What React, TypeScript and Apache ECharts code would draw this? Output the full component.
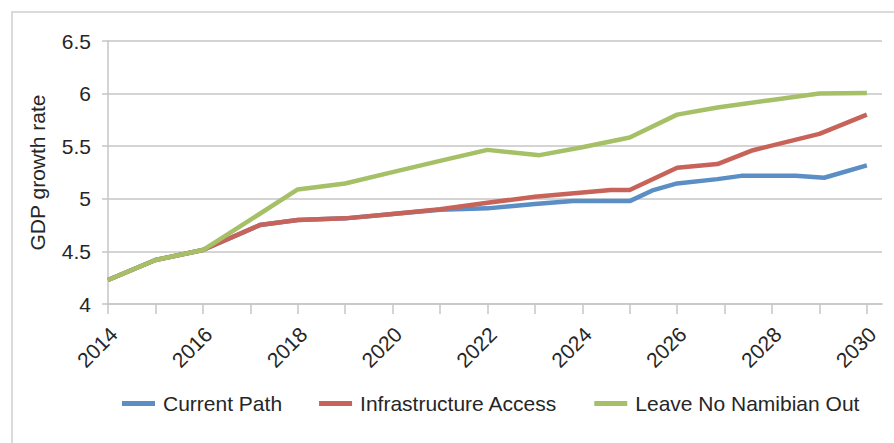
import React, { useEffect, useRef } from "react";
import * as echarts from "echarts";

const seriesNames = ["Current Path", "Infrastructure Access", "Leave No Namibian Out"];

const currentPathYears = [2014, 2015, 2016, 2017.2, 2018, 2019, 2020, 2021, 2022, 2023, 2023.8, 2025, 2025.5, 2026, 2026.85, 2027.35, 2028.5, 2029.1, 2030];
const currentPathValues = [4.228, 4.418, 4.513, 4.75, 4.798, 4.814, 4.855, 4.895, 4.909, 4.95, 4.978, 4.978, 5.083, 5.146, 5.187, 5.218, 5.218, 5.2, 5.317];

const infraYears = [2014, 2015, 2016, 2017.2, 2018, 2019, 2020, 2021, 2022, 2023, 2024.6, 2025, 2026, 2026.85, 2027.6, 2029, 2030];
const infraValues = [4.228, 4.418, 4.513, 4.75, 4.798, 4.814, 4.855, 4.9, 4.962, 5.02, 5.083, 5.083, 5.295, 5.33, 5.462, 5.617, 5.8];

const leaveYears = [2014, 2015, 2016, 2017, 2018, 2019, 2020, 2021, 2022, 2023.1, 2024, 2025, 2026, 2026.85, 2028, 2029, 2030];
const leaveValues = [4.228, 4.418, 4.513, 4.8, 5.089, 5.146, 5.254, 5.36, 5.465, 5.415, 5.49, 5.583, 5.8, 5.868, 5.94, 6.0, 6.005];

const tickYears = [2014, 2015, 2016, 2017, 2018, 2019, 2020, 2021, 2022, 2023, 2024, 2025, 2026, 2027, 2028, 2029, 2030];
const labelYears = [2014, 2016, 2018, 2020, 2022, 2024, 2026, 2028, 2030];

const colors = ["#5b8ec4", "#c8635a", "#a6c067"];
const FONT = "Liberation Sans, Arial, Helvetica, sans-serif";
const TEXT = "#262626";
const GRID = "#c6c6c6";

function pairs(xs: number[], ys: number[]) {
  return xs.map((x, i) => [x, ys[i]]);
}

export default function App() {
  const ref = useRef<HTMLDivElement>(null);
  useEffect(() => {
    if (!ref.current) return;
    const chart = echarts.init(ref.current, null, { renderer: "svg" });
    const datasets = [
      pairs(currentPathYears, currentPathValues),
      pairs(infraYears, infraValues),
      pairs(leaveYears, leaveValues),
    ];
    chart.setOption({
      animation: false,
      backgroundColor: "#ffffff",
      textStyle: { fontFamily: FONT },
      graphic: [
        {
          type: "rect",
          shape: { x: 12, y: 12, width: 1000, height: 1000 },
          style: { fill: "none", stroke: "#dadada", lineWidth: 2 },
          silent: true,
        },
      ],
      grid: { left: 108, right: 12, top: 41, bottom: 139, containLabel: false },
      legend: {
        left: 117,
        top: 388,
        icon: "rect",
        itemWidth: 33,
        itemHeight: 5,
        itemGap: 37,
        data: seriesNames,
        textStyle: { fontFamily: FONT, fontSize: 21, color: TEXT, padding: [0, 0, 0, 3] },
      },
      xAxis: {
        type: "value",
        min: 2014,
        max: 2030.32,
        interval: 1,
        axisLine: { show: true, lineStyle: { color: GRID, width: 1.5 } },
        axisTick: { show: true, length: 10, lineStyle: { color: GRID, width: 1.5 }, customValues: tickYears },
        axisLabel: {
          rotate: 45,
          margin: 21,
          fontSize: 21,
          lineHeight: 16,
          fontFamily: FONT,
          color: TEXT,
          align: "right",
          verticalAlign: "top",
          showMinLabel: true,
          showMaxLabel: false,
          hideOverlap: false,
          formatter: (v: number) => {
            const r = Math.round(v);
            return Math.abs(v - r) < 1e-6 && labelYears.indexOf(r) >= 0 ? String(r) : "";
          },
        },
        splitLine: { show: false },
      },
      yAxis: {
        type: "value",
        min: 4,
        max: 6.5,
        interval: 0.5,
        name: "GDP growth rate",
        nameLocation: "middle",
        nameGap: 60,
        nameTextStyle: { fontFamily: FONT, fontSize: 21, color: TEXT },
        axisLine: { show: true, lineStyle: { color: GRID, width: 1.5 } },
        axisTick: { show: true, length: 6, lineStyle: { color: GRID, width: 1.5 } },
        axisLabel: { margin: 17, fontSize: 21, fontFamily: FONT, color: TEXT },
        splitLine: { show: true, lineStyle: { color: GRID, width: 1.5 } },
      },
      series: seriesNames.map((name, i) => ({
        name,
        type: "line",
        data: datasets[i],
        showSymbol: false,
        symbol: "none",
        lineStyle: { color: colors[i], width: 4.5, cap: "butt", join: "round" },
        itemStyle: { color: colors[i] },
        z: 2 + i,
      })),
    });
    return () => chart.dispose();
  }, []);
  return (
    <div
      ref={ref}
      style={{ position: "fixed", left: 0, top: 0, width: 894, height: 443 }}
    />
  );
}
